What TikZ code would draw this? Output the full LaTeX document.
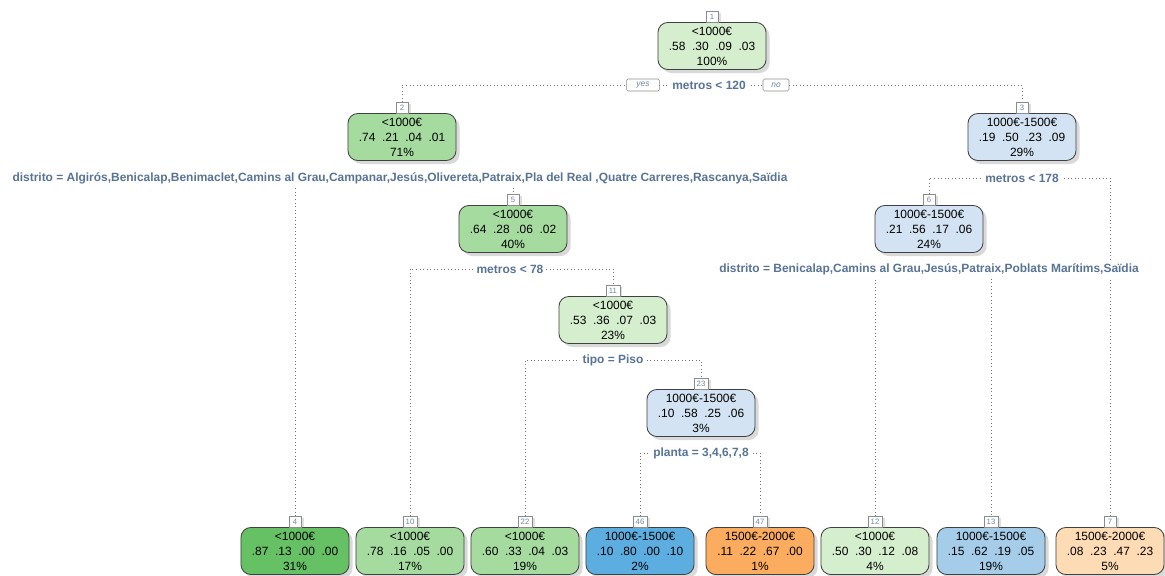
\documentclass[tikz,border=0pt]{standalone}
\usepackage{fontspec}
\setmainfont{Liberation Sans}
\usepackage{xcolor}
\usetikzlibrary{
    positioning,
    shadows,
    backgrounds,
}
\definecolor{greenA}{RGB}{213,238,206}
\definecolor{greenB}{RGB}{166,219,160}
\definecolor{greenC}{RGB}{102,192,100}
\definecolor{blueA}{RGB}{211,227,243}
\definecolor{blueB}{RGB}{165,204,232}
\definecolor{blueC}{RGB}{92,174,224}
\definecolor{orangeA}{RGB}{253,219,180}
\definecolor{orangeB}{RGB}{252,172,95}
\definecolor{splitblue}{RGB}{88,115,150}
\definecolor{idblue}{RGB}{110,135,165}
\tikzset{
    % Tree node styles
    tree node/.style={rectangle, draw=black!75, line width=0.6pt, rounded corners=7pt,
                      minimum width=2.7cm, minimum height=1.175cm, inner sep=1pt,
                      align=center, font=\fontsize{8.5}{10.6}\selectfont,
                      drop shadow={shadow xshift=2.5pt, shadow yshift=-2.5pt, opacity=0.3}},
    green node/.style={tree node, fill=greenA},
    green mid node/.style={tree node, fill=greenB},
    green dark node/.style={tree node, fill=greenC},
    blue node/.style={tree node, fill=blueA},
    blue mid node/.style={tree node, fill=blueB},
    blue dark node/.style={tree node, fill=blueC},
    orange node/.style={tree node, fill=orangeA},
    orange dark node/.style={tree node, fill=orangeB},
    % Label styles
    node id/.style={rectangle, draw=black!45, fill=white, line width=0.4pt,
                    minimum width=0.3cm, minimum height=0.26cm, inner xsep=2pt, inner ysep=0.5pt,
                    font=\fontsize{5.5}{5.5}\selectfont, text=idblue,
                    drop shadow={shadow xshift=1.8pt, shadow yshift=-0.8pt, opacity=0.25}},
    split label/.style={fill=white, inner sep=2pt, text=splitblue,
                        font=\fontsize{8.5}{10}\selectfont\bfseries},
    answer box/.style={rectangle, draw=black!45, fill=white, line width=0.4pt, rounded corners=1pt,
                       minimum height=0.3cm, inner xsep=3pt, inner ysep=0.5pt, text=idblue,
                       font=\fontsize{6}{6}\itshape},
    % Connector styles
    branch/.style={dotted, line width=0.5pt, black!55},
}

\begin{document}
\begin{tikzpicture}[x=0.025cm, y=-0.025cm]
    \useasboundingbox (0,0) rectangle (1165,576);

    % Root
    \node[green node] (n1) at (712,46) {<1000€\\.58~~.30~~.09~~.03\\100\%};
    \node[node id, above=0pt of n1] (i1) {1};
    \node[split label] (s1) at (709,85) {metros < 120};
    \node[answer box, minimum width=0.82cm] (yes) at (643,85) {yes};
    \node[answer box, minimum width=0.65cm] (no) at (776,85) {no};

    % Level 1
    \node[green mid node] (n2) at (402,137) {<1000€\\.74~~.21~~.04~~.01\\71\%};
    \node[node id, above=0pt of n2] (i2) {2};
    \node[split label] (s2) at (400,178)
        {distrito = Algirós,Benicalap,Benimaclet,Camins al Grau,Campanar,Jesús,Olivereta,Patraix,Pla del Real ,Quatre Carreres,Rascanya,Saïdia};

    \node[blue node] (n3) at (1022,137) {1000€-1500€\\.19~~.50~~.23~~.09\\29\%};
    \node[node id, above=0pt of n3] (i3) {3};
    \node[split label] (s3) at (1022,178) {metros < 178};

    % Level 2
    \node[green mid node] (n5) at (513,229) {<1000€\\.64~~.28~~.06~~.02\\40\%};
    \node[node id, above=0pt of n5] (i5) {5};
    \node[split label] (s5) at (510,269) {metros < 78};

    \node[blue node] (n6) at (929,229) {1000€-1500€\\.21~~.56~~.17~~.06\\24\%};
    \node[node id, above=0pt of n6] (i6) {6};
    \node[split label] (s6) at (929,269)
        {distrito = Benicalap,Camins al Grau,Jesús,Patraix,Poblats Marítims,Saïdia};

    % Level 3
    \node[green node] (n11) at (613,320) {<1000€\\.53~~.36~~.07~~.03\\23\%};
    \node[node id, above=0pt of n11] (i11) {11};
    \node[split label] (s11) at (613,360) {tipo = Piso};

    % Level 4
    \node[blue node] (n23) at (701,413) {1000€-1500€\\.10~~.58~~.25~~.06\\3\%};
    \node[node id, above=0pt of n23] (i23) {23};
    \node[split label] (s23) at (701,453) {planta = 3,4,6,7,8};

    % Leaves
    \node[green dark node] (l4) at (295,551) {<1000€\\.87~~.13~~.00~~.00\\31\%};
    \node[node id, above=0pt of l4] (i4) {4};
    \node[green mid node] (l10) at (410,551) {<1000€\\.78~~.16~~.05~~.00\\17\%};
    \node[node id, above=0pt of l10] (i10) {10};
    \node[green mid node] (l22) at (525,551) {<1000€\\.60~~.33~~.04~~.03\\19\%};
    \node[node id, above=0pt of l22] (i22) {22};
    \node[blue dark node] (l46) at (640,551) {1000€-1500€\\.10~~.80~~.00~~.10\\2\%};
    \node[node id, above=0pt of l46] (i46) {46};
    \node[orange dark node] (l47) at (760,551) {1500€-2000€\\.11~~.22~~.67~~.00\\1\%};
    \node[node id, above=0pt of l47] (i47) {47};
    \node[green node] (l12) at (875,551) {<1000€\\.50~~.30~~.12~~.08\\4\%};
    \node[node id, above=0pt of l12] (i12) {12};
    \node[blue mid node] (l13) at (991,551) {1000€-1500€\\.15~~.62~~.19~~.05\\19\%};
    \node[node id, above=0pt of l13] (i13) {13};
    \node[orange node] (l7) at (1110,551) {1500€-2000€\\.08~~.23~~.47~~.23\\5\%};
    \node[node id, above=0pt of l7] (i7) {7};

    % Branches
    \begin{scope}[on background layer]
        \draw[branch] (i2.north) |- (s1.center) -| (i3.north);
        \draw[branch] (i4.north) |- (s2.center) -| (i5.north);
        \draw[branch] (i6.north) |- (s3.center) -| (i7.north);
        \draw[branch] (i10.north) |- (s5.center) -| (i11.north);
        \draw[branch] (i12.north) |- (s6.center) -| (i13.north);
        \draw[branch] (i22.north) |- (s11.center) -| (i23.north);
        \draw[branch] (i46.north) |- (s23.center) -| (i47.north);
    \end{scope}
\end{tikzpicture}
\end{document}
